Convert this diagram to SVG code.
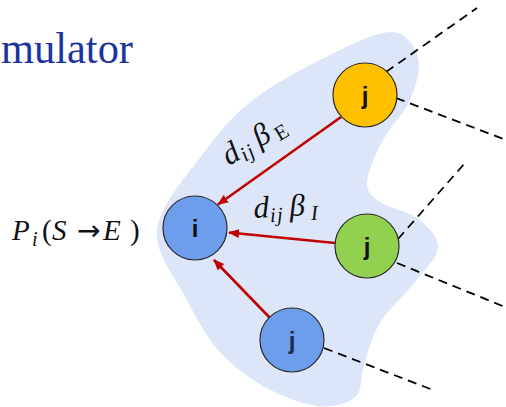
<svg xmlns="http://www.w3.org/2000/svg" width="506" height="407" viewBox="0 0 506 407">
<defs>
<marker id="ah" markerUnits="userSpaceOnUse" markerWidth="12" markerHeight="10" refX="10" refY="4.5" orient="auto">
<path d="M0,0 L11,4.5 L0,9 z" fill="#c00000"/>
</marker>
<style>
.node{stroke:#2b2b2b;stroke-width:1.2}
.lbl{font-family:"Liberation Sans",Arial,sans-serif;font-size:24px;font-weight:bold;text-anchor:middle;fill:#111}
.red{stroke:#c00000;stroke-width:2.6;fill:none}
.dash{stroke:#000;stroke-width:1.8;stroke-dasharray:9 6;fill:none}
.m{font-family:"Liberation Serif","Times New Roman",serif;fill:#111}
.it{font-style:italic}
</style>
</defs>
<rect width="506" height="407" fill="#fff"/>
<text x="1" y="63" font-family="Liberation Serif,'Times New Roman',serif" font-size="45" fill="#1b34a0" textLength="132" lengthAdjust="spacingAndGlyphs">mulator</text>
<path id="blob" fill="#dce6f8" d="M157,230 C159.5,205.8 186,176.7 202,155 C218,133.3 231.7,116.7 253,100 C274.3,83.3 306.8,66.3 330,55 C353.2,43.7 377.3,31.5 392,32 C406.7,32.5 415,46.7 418,58 C421,69.3 415.8,86.3 410,100 C404.2,113.7 390.2,126.3 383,140 C375.8,153.7 367.5,171.7 367,182 C366.5,192.3 371.7,196 380,202 C388.3,208 407.3,210.5 417,218 C426.7,225.5 438.3,236.3 438,247 C437.7,257.7 424.7,269.3 415,282 C405.3,294.7 388.5,309.2 380,323 C371.5,336.8 367.8,353 364,365 C360.2,377 362.3,388.2 357,395 C351.7,401.8 341.5,404.8 332,406 C322.5,407.2 312.3,405.8 300,402 C287.7,398.2 271.7,391.7 258,383 C244.3,374.3 229.8,363.8 218,350 C206.2,336.2 197.2,320 187,300 C176.8,280 154.5,254.2 157,230 Z"/>
<g id="connectors">
<line class="dash" x1="386" y1="72" x2="477" y2="8"/>
<line class="dash" x1="396" y1="98" x2="506" y2="140"/>
<line class="dash" x1="398" y1="239" x2="465" y2="163"/>
<line class="dash" x1="397" y1="263" x2="505" y2="307"/>
<line class="dash" x1="324" y1="348" x2="433" y2="390"/>
<line class="red" x1="341" y1="117" x2="218" y2="204.5" marker-end="url(#ah)"/>
<line class="red" x1="335" y1="243" x2="229" y2="232.5" marker-end="url(#ah)"/>
<line class="red" x1="270" y1="318" x2="214" y2="260" marker-end="url(#ah)"/>
</g>
<g id="node-i">
<circle class="node" cx="195" cy="228" r="32" fill="#6d9eeb"/>
<text class="lbl" x="195" y="237">i</text>
</g>
<g id="node-j-yellow">
<circle class="node" cx="365" cy="95" r="32" fill="#ffc000"/>
<text class="lbl" x="365" y="104">j</text>
</g>
<g id="node-j-green">
<circle class="node" cx="367" cy="246" r="32" fill="#92d050"/>
<text class="lbl" x="367" y="255">j</text>
</g>
<g id="node-j-blue">
<circle class="node" cx="292" cy="340" r="32" fill="#6d9eeb"/>
<text class="lbl" x="292" y="349" style="fill:#1c2b4f">j</text>
</g>
<g id="label-P">
<text class="m" font-size="29" y="240"><tspan class="it" x="12">P</tspan><tspan class="it" x="32" y="246" font-size="20">i</tspan><tspan x="42" y="240">(</tspan><tspan class="it" x="52">S</tspan><tspan x="77" font-family="DejaVu Sans,sans-serif" font-size="28">→</tspan><tspan class="it" x="103">E</tspan><tspan x="130">)</tspan></text>
</g>
<g id="label-E" transform="translate(229,166) rotate(-31)">
<text class="m" font-size="31" y="0"><tspan class="it" x="0">d</tspan><tspan class="it" x="16" y="5" font-size="21">i</tspan><tspan class="it" x="23" font-size="21">j</tspan><tspan class="it" x="36" y="0">β</tspan><tspan x="56" y="5" font-size="21">E</tspan></text>
</g>
<g id="label-I" transform="translate(254,218) rotate(-3)">
<text class="m" font-size="31" y="0"><tspan class="it" x="0">d</tspan><tspan class="it" x="16" y="5" font-size="21">i</tspan><tspan class="it" x="23" font-size="21">j</tspan><tspan class="it" x="36" y="0">β</tspan><tspan class="it" x="57" y="5" font-size="21">I</tspan></text>
</g>
</svg>
